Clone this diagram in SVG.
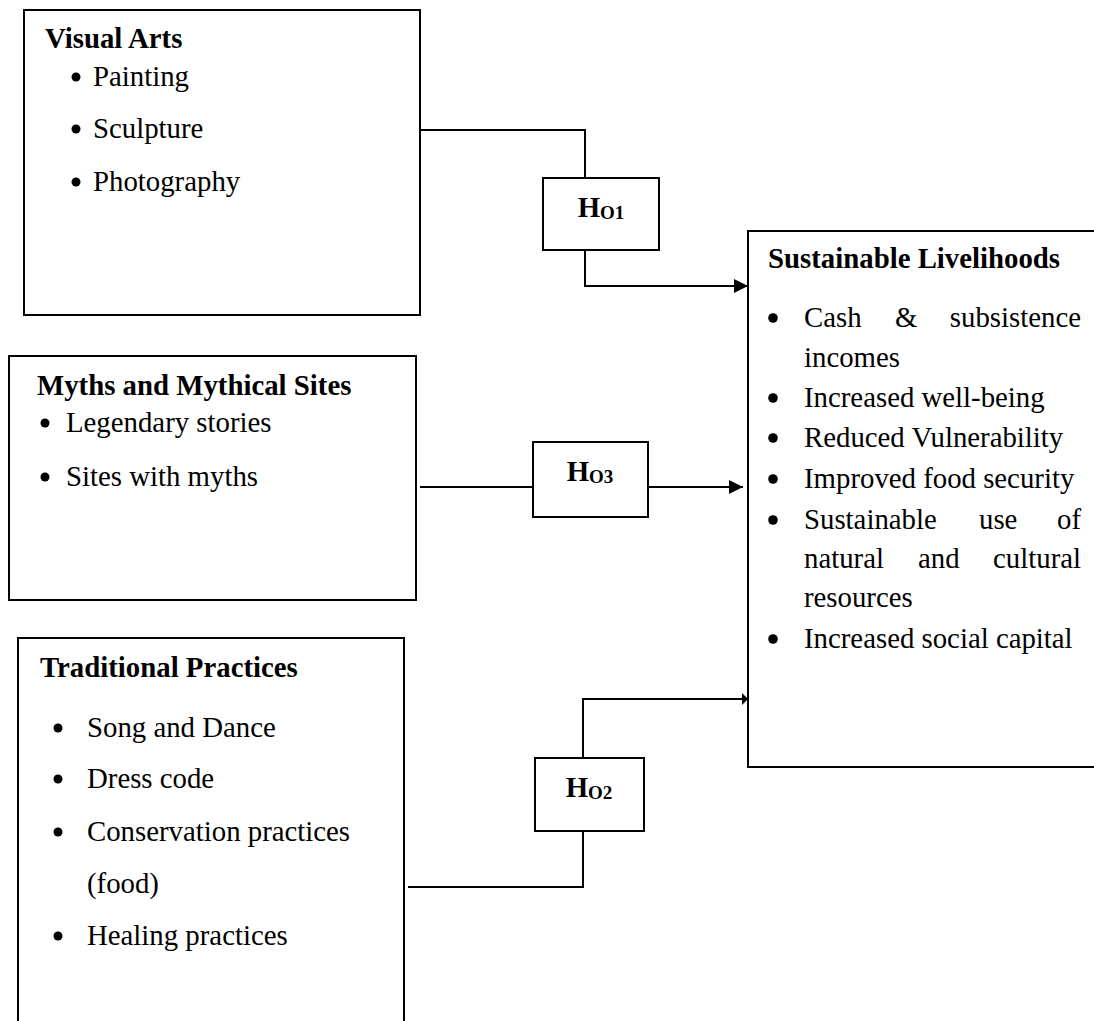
<svg xmlns="http://www.w3.org/2000/svg" width="1094" height="1021" viewBox="0 0 1094 1021">
<style>
.box{fill:#fff;stroke:#000;stroke-width:2}
.t{font-family:"Liberation Serif","Times New Roman",serif;font-size:28.8px;fill:#000}
.b{font-weight:bold}
.sub{font-size:19px;font-weight:bold}
.c{fill:none;stroke:#000;stroke-width:2}
.dot{fill:#000}
</style>
<defs>
<marker id="arr" viewBox="0 0 14 14" refX="14" refY="7" markerWidth="14" markerHeight="14" markerUnits="userSpaceOnUse" orient="auto">
<path d="M0,0 L14,7 L0,14 Z" fill="#000"/>
</marker>
<marker id="arrs" viewBox="0 0 6 12" refX="6" refY="6" markerWidth="6" markerHeight="12" markerUnits="userSpaceOnUse" orient="auto">
<path d="M0,0 L6,6 L0,12 Z" fill="#000"/>
</marker>
</defs>
<rect width="1094" height="1021" fill="#fff"/>

<g id="connectors">
<polyline class="c" points="420,130 585,130 585,178"/>
<polyline class="c" points="585,250 585,286 748,286" marker-end="url(#arr)"/>
<line class="c" x1="420" y1="487" x2="533" y2="487"/>
<line class="c" x1="648" y1="487" x2="743" y2="487" marker-end="url(#arr)"/>
<polyline class="c" points="408,887 583,887 583,831"/>
<polyline class="c" points="583,758 583,699 748,699" marker-end="url(#arrs)"/>
</g>

<g id="visual-arts">
<rect class="box" x="24" y="10" width="396" height="305"/>
<text class="t b" x="45" y="48">Visual Arts</text>
<circle class="dot" cx="76" cy="77" r="4.5"/>
<text class="t" x="93" y="86">Painting</text>
<circle class="dot" cx="76" cy="129" r="4.5"/>
<text class="t" x="93" y="138">Sculpture</text>
<circle class="dot" cx="76" cy="182" r="4.5"/>
<text class="t" x="93" y="191">Photography</text>
</g>

<g id="myths">
<rect class="box" x="9" y="356" width="407" height="244"/>
<text class="t b" x="37" y="395">Myths and Mythical Sites</text>
<circle class="dot" cx="45" cy="423" r="4.5"/>
<text class="t" x="66" y="432">Legendary stories</text>
<circle class="dot" cx="45" cy="477" r="4.5"/>
<text class="t" x="66" y="486">Sites with myths</text>
</g>

<g id="traditional">
<rect class="box" x="18" y="638" width="386" height="400"/>
<text class="t b" x="40" y="677">Traditional Practices</text>
<circle class="dot" cx="58" cy="728" r="4.5"/>
<text class="t" x="87" y="737">Song and Dance</text>
<circle class="dot" cx="58" cy="779" r="4.5"/>
<text class="t" x="87" y="788">Dress code</text>
<circle class="dot" cx="58" cy="832" r="4.5"/>
<text class="t" x="87" y="841">Conservation practices</text>
<text class="t" x="87" y="893">(food)</text>
<circle class="dot" cx="58" cy="936" r="4.5"/>
<text class="t" x="87" y="945">Healing practices</text>
</g>

<g id="h01">
<rect class="box" x="543" y="178" width="116" height="72"/>
<text class="t b" x="601" y="217" text-anchor="middle">H<tspan class="sub" dy="2">O1</tspan></text>
</g>

<g id="h03">
<rect class="box" x="533" y="442" width="115" height="75"/>
<text class="t b" x="590" y="481" text-anchor="middle">H<tspan class="sub" dy="2">O3</tspan></text>
</g>

<g id="h02">
<rect class="box" x="535" y="758" width="109" height="73"/>
<text class="t b" x="589" y="797" text-anchor="middle">H<tspan class="sub" dy="2">O2</tspan></text>
</g>

<g id="sustainable">
<rect class="box" x="748" y="231" width="360" height="536"/>
<text class="t b" x="768" y="268">Sustainable Livelihoods</text>
<circle class="dot" cx="773" cy="318" r="4.8"/>
<text class="t" x="804" y="327">Cash</text>
<text class="t" x="895" y="327">&amp;</text>
<text class="t" x="1081" y="327" text-anchor="end">subsistence</text>
<text class="t" x="804" y="367">incomes</text>
<circle class="dot" cx="773" cy="398" r="4.8"/>
<text class="t" x="804" y="407">Increased well-being</text>
<circle class="dot" cx="773" cy="438" r="4.8"/>
<text class="t" x="804" y="447">Reduced Vulnerability</text>
<circle class="dot" cx="773" cy="479" r="4.8"/>
<text class="t" x="804" y="488">Improved food security</text>
<circle class="dot" cx="773" cy="520" r="4.8"/>
<text class="t" x="804" y="529">Sustainable</text>
<text class="t" x="979" y="529">use</text>
<text class="t" x="1081" y="529" text-anchor="end">of</text>
<text class="t" x="804" y="568">natural</text>
<text class="t" x="918" y="568">and</text>
<text class="t" x="1081" y="568" text-anchor="end">cultural</text>
<text class="t" x="804" y="607">resources</text>
<circle class="dot" cx="773" cy="639" r="4.8"/>
<text class="t" x="804" y="648">Increased social capital</text>
</g>
</svg>
